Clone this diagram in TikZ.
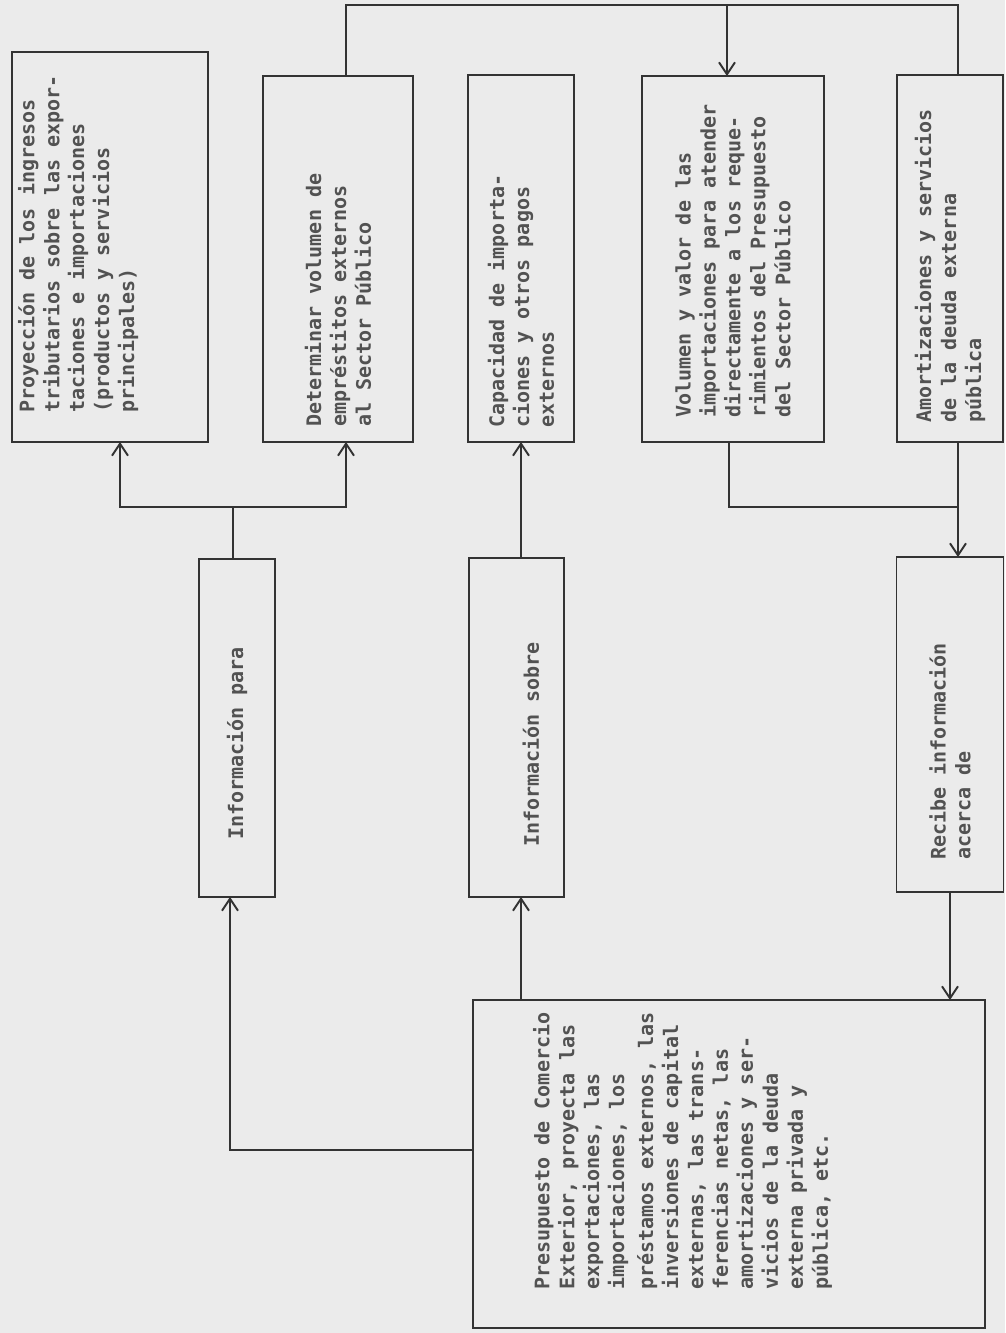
\documentclass[tikz,border=0pt]{standalone}
\usepackage{graphicx}
\usepackage{fontspec}
\setmonofont{DejaVu Sans Mono}
\usetikzlibrary{arrows.meta}

\newcommand{\vtext}[5][c]{\rotatebox{90}{\parbox[c][#3][#1]{#2}{\raggedright\leftskip=#4\relax #5}}}

\tikzset{
  tbox/.style={draw=black!80,line width=1.1pt,inner sep=0pt,outer sep=0pt,
    font=\ttfamily\bfseries\fontsize{11.4}{14.2}\selectfont,text=black!68},
  wire/.style={draw=black!80,line width=1.1pt},
  >={Straight Barb[length=2.4mm,width=3.2mm]}
}

\begin{document}
\begin{tikzpicture}[x=0.02cm,y=-0.02cm]
      \fill[black!8] (0,0) rectangle (1005,1333);
      \useasboundingbox (0,0) rectangle (1005,1333);

      \node [tbox,minimum width=3.92cm,minimum height=7.8cm] (proj) at (110,247)
      {\vtext[t]{7.64cm}{3.68cm}{0.5cm}{Proyección de los ingresos\\
      tributarios sobre las expor-\\ taciones e importaciones\\
      (productos y servicios\\ principales)}};

      \node [tbox,minimum width=3cm,minimum height=7.32cm] (det) at (338,259)
      {\vtext{7.16cm}{2.8cm}{0.22cm}{Determinar volumen de\\
      empréstitos externos\\ al Sector Público}};

      \node [tbox,minimum width=2.12cm,minimum height=7.34cm] (cap) at (521,258.5)
      {\vtext{7.18cm}{2cm}{0.2cm}{Capacidad de importa-\\
      ciones y otros pagos\\ externos}};

      \node [tbox,minimum width=3.64cm,minimum height=7.32cm] (vol) at (733,259)
      {\vtext{7.16cm}{3.4cm}{0.4cm}{Volumen y valor de las\\
      importaciones para atender\\ directamente a los reque-\\
      rimientos del Presupuesto\\ del Sector Público}};

      \node [tbox,minimum width=2.12cm,minimum height=7.34cm] (amort) at (950,258.5)
      {\vtext{7.18cm}{2cm}{0.3cm}{Amortizaciones y servicios\\
      de la deuda externa\\ pública}};

      \node [tbox,minimum width=1.52cm,minimum height=6.76cm] (infp) at (237,728)
      {\vtext{6.6cm}{1.4cm}{1.06cm}{Información para}};

      \node [tbox,minimum width=1.9cm,minimum height=6.78cm] (infs) at (516.5,727.5)
      {\vtext[b]{6.62cm}{0.9cm}{0.92cm}{Información sobre}};

      \node [tbox,minimum width=2.14cm,minimum height=6.7cm] (rec) at (950,724.5)
      {\vtext{6.54cm}{2cm}{0.56cm}{Recibe información\\ acerca de}};

      \node [tbox,minimum width=10.24cm,minimum height=6.56cm] (pres) at (729,1164)
      {\vtext[t]{6.4cm}{7.84cm}{0.68cm}{Presupuesto de Comercio\\
      Exterior, proyecta las\\ exportaciones, las\\ importaciones, los\\[0.08cm]
      préstamos externos, las\\ inversiones de capital\\
      externas, las trans-\\ ferencias netas, las\\
      amortizaciones y ser-\\ vicios de la deuda\\
      externa privada y\\ pública, etc.}};

      \coordinate (tl) at (346,5);
      \coordinate (tr) at (958,5);
      \coordinate (tv) at (727,5);

      \draw [wire] (tl |- det.north) -- (tl) -- (tr) -- (tr |- amort.north);
      \draw [wire,->] (tv) -- (tv |- vol.north);

      \coordinate (jl) at (120,507);
      \coordinate (jr) at (346,507);
      \coordinate (ip) at (233,507);

      \draw [wire,<->] (jl |- proj.south) -- (jl) -- (jr) -- (jr |- det.south);
      \draw [wire] (ip |- infp.north) -- (ip);

      \draw [wire,->] (infs.north -| cap.south) -- (cap.south);
      \draw [wire,->] (pres.north -| cap.south) -- (infs.south -| cap.south);

      \coordinate (bl) at (230,1150);
      \draw [wire,->] (pres.west |- bl) -- (bl) -- (bl |- infp.south);

      \coordinate (vb) at (729,507);
      \coordinate (jb) at (958,507);

      \draw [wire] (vb |- vol.south) -- (vb) -- (jb);
      \draw [wire,->] (jb |- amort.south) -- (jb |- rec.north);

      \draw [wire,->] (rec.south) -- (rec.south |- pres.north);
  \end{tikzpicture}
\end{document}
